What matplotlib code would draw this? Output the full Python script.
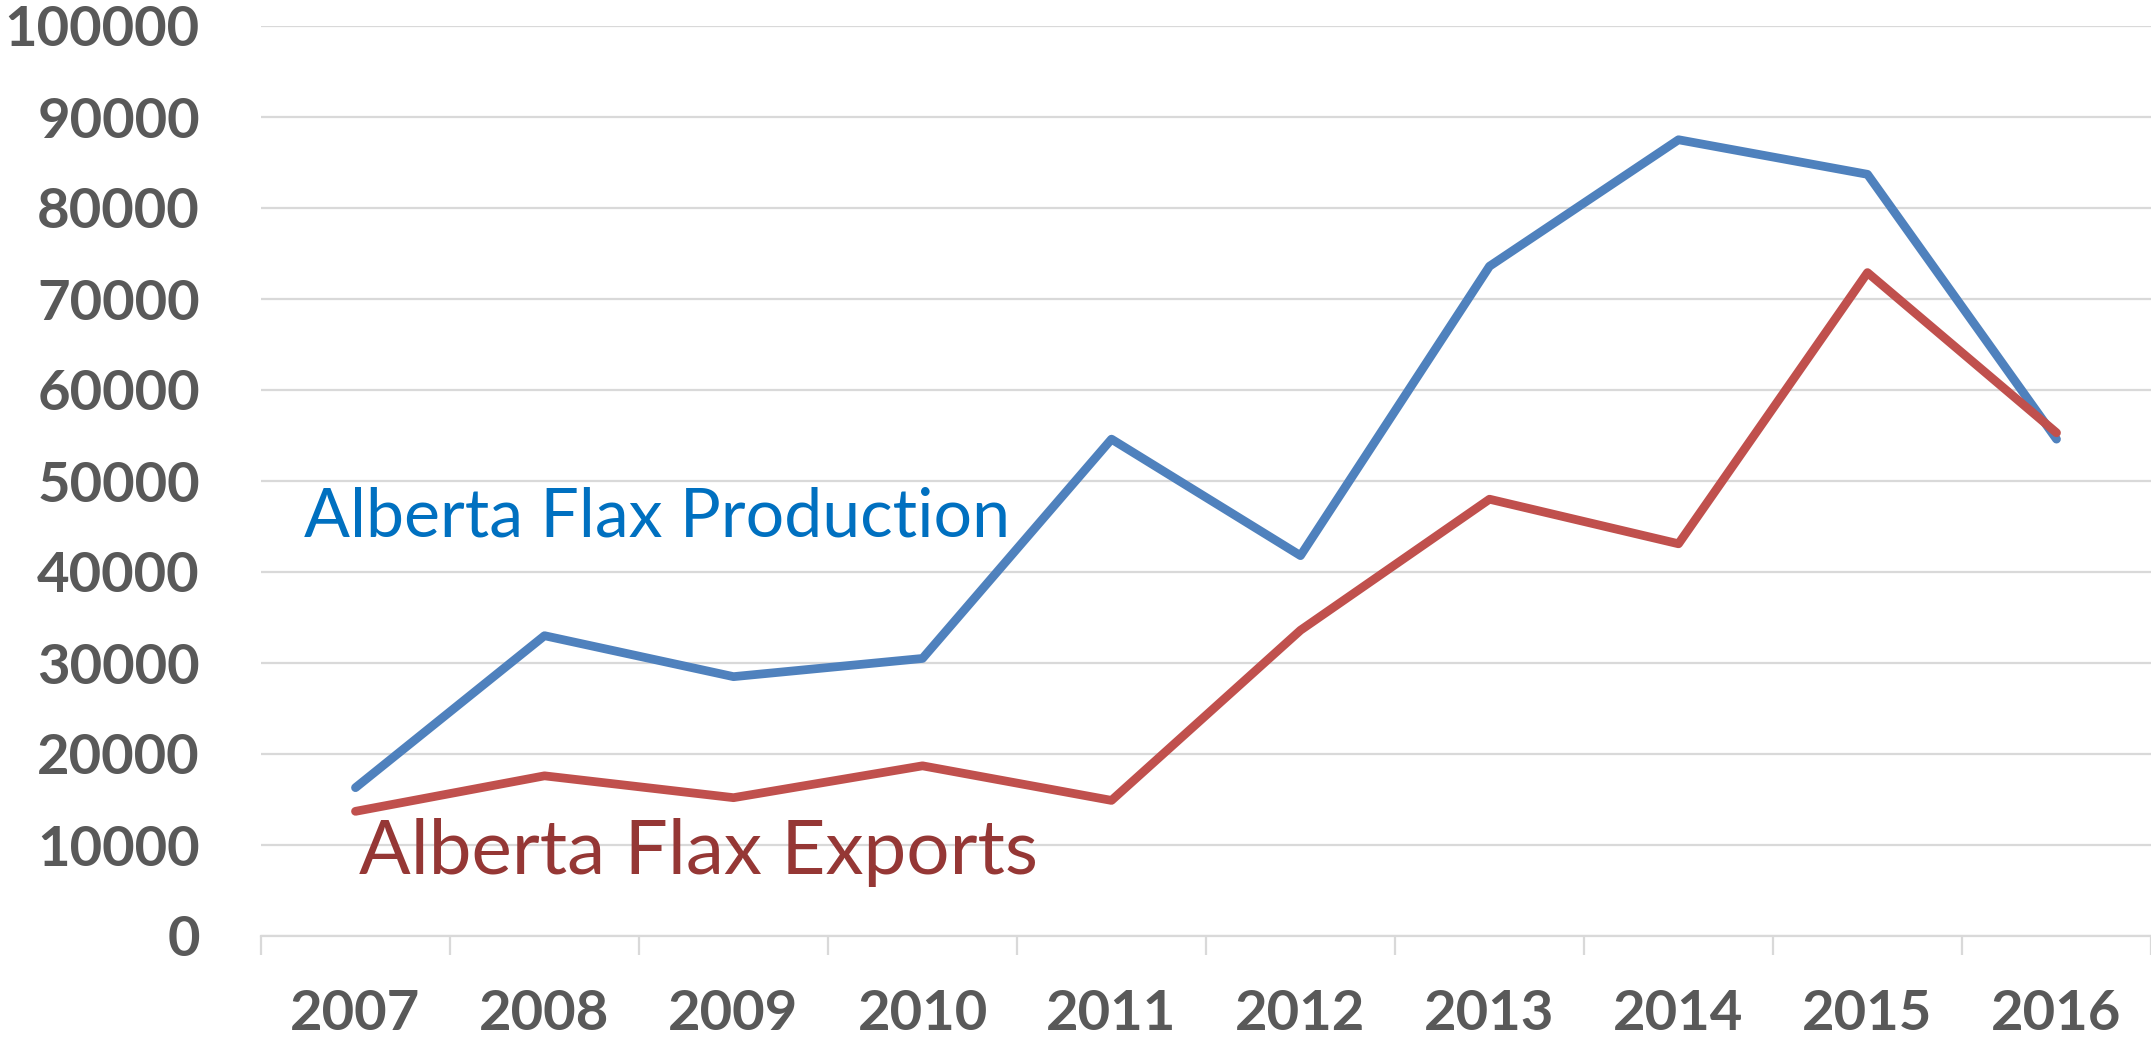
import matplotlib.pyplot as plt
import numpy as np

years = ['2007', '2008', '2009', '2010', '2011', '2012', '2013', '2014', '2015', '2016']
production = [16300, 33000, 28500, 30500, 54600, 41800, 73600, 87500, 83700, 54600]
exports = [13700, 17600, 15200, 18700, 14900, 33600, 48000, 43100, 72900, 55300]

plt.rcParams['font.family'] = ['Lato', 'DejaVu Sans']

fig = plt.figure(figsize=(21.51, 10.45), dpi=100)
ax = fig.add_axes([261 / 2151, 1 - 936 / 1045, 1 - 261 / 2151, (936 - 26) / 1045])

x = np.arange(len(years))
ax.plot(x, production, color='#4F81BD', lw=6.3, solid_capstyle='round', solid_joinstyle='round', zorder=3)
ax.plot(x, exports, color='#C0504D', lw=6.3, solid_capstyle='round', solid_joinstyle='round', zorder=4)

ax.set_xlim(-0.5, 9.5)
ax.set_ylim(0, 100000)
ax.set_yticks(np.arange(0, 100001, 10000))
ax.yaxis.grid(True, color='#D9D9D9', lw=1.6)
ax.set_axisbelow(True)

for s in ['top', 'right', 'left']:
    ax.spines[s].set_visible(False)
ax.spines['bottom'].set_color('#D9D9D9')
ax.spines['bottom'].set_linewidth(1.6)

ax.set_xticks(x)
ax.set_xticklabels(years)
ax.set_xticks(np.arange(-0.5, 9.6, 1), minor=True)
ax.tick_params(axis='x', which='major', length=0, pad=38)
ax.tick_params(axis='x', which='minor', length=14, width=1.6, color='#D9D9D9')
ax.tick_params(axis='y', length=0, pad=44)
for lab in ax.get_xticklabels() + ax.get_yticklabels():
    lab.set_fontsize(40.5)
    lab.set_fontweight('bold')
    lab.set_color('#595959')

ax.text(-0.27, 46000, 'Alberta Flax Production', color='#0070C0', fontsize=49,
        va='center', ha='left')
ax.text(0.02, 9200, 'Alberta Flax Exports', color='#953735', fontsize=55,
        va='center', ha='left')

fig.savefig('out.png', dpi=100)
